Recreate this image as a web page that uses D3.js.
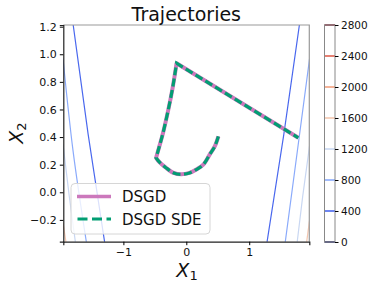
<!DOCTYPE html>
<html>
<head>
<meta charset="utf-8">
<script src="https://cdn.jsdelivr.net/npm/d3@7"></script>
<style>
body { margin: 0; background: #fff; }
text { font-family: "DejaVu Sans", sans-serif; }
</style>
</head>
<body>
<div id="container"></div>
<script>
// trajectory split at its two corners: bottom curve, left rise, straight run
const dsgd = [
    [[0.51, 0.405], [0.45, 0.33], [0.38, 0.28], [0.27, 0.2], [0.16, 0.165], [0.05, 0.14], [-0.08, 0.13], [-0.2, 0.14], [-0.33, 0.18], [-0.43, 0.22], [-0.48, 0.25]],
    [[-0.48, 0.25], [-0.43, 0.33], [-0.37, 0.43], [-0.29, 0.59], [-0.22, 0.75], [-0.18, 0.86], [-0.155, 0.935]],
    [[-0.155, 0.935], [1.78, 0.395]]
];
const dsgdSde = [
    [[0.51, 0.405], [0.45, 0.33], [0.38, 0.28], [0.27, 0.2], [0.16, 0.165], [0.05, 0.14], [-0.08, 0.13], [-0.2, 0.14], [-0.33, 0.18], [-0.43, 0.22], [-0.48, 0.25]],
    [[-0.48, 0.25], [-0.43, 0.33], [-0.37, 0.43], [-0.29, 0.59], [-0.22, 0.75], [-0.18, 0.86], [-0.155, 0.935]],
    [[-0.155, 0.935], [1.78, 0.395]]
];

const levels = [0, 400, 800, 1200, 1600, 2000, 2400, 2800];
const levelColors = ["#1f2466", "#4a68ee", "#8aaafb", "#c9d7f2", "#f4c7b0", "#f3a07f", "#e0604e", "#8a2a3a"];

// contour lines: [level, points]
const contourLines = [
    [400, [[-1.8, 1.22], [-1.56, 0.42], [-1.295, -0.37]]],
    [800, [[-1.96, 0.97], [-1.8, 0.3], [-1.585, -0.37]]],
    [1200, [[-1.96, 0.35], [-1.86, -0.03], [-1.76, -0.37]]],
    [1600, [[-1.96, -0.22], [-1.91, -0.37]]],
    [400, [[1.8, 1.22], [1.55, 0.42], [1.28, -0.37]]],
    [800, [[1.96, 0.97], [1.78, 0.35], [1.57, -0.37]]],
    [1200, [[1.96, 0.34], [1.85, -0.03], [1.76, -0.37]]],
    [1600, [[1.96, -0.2], [1.91, -0.37]]]
];

const xTicks = [-1, 0, 1];
const yTicks = [-0.2, 0.0, 0.2, 0.4, 0.6, 0.8, 1.0, 1.2];

const width = 374;
const height = 288;
const margin = ({ top: 25, right: 309.3, bottom: 241.7, left: 63.3 });

let x = d3.scaleLinear()
    .domain([-1.955, 1.955])
    .range([margin.left, margin.right]);

let y = d3.scaleLinear()
    .domain([-0.358, 1.212])
    .range([margin.bottom, margin.top]);

let cb = d3.scaleLinear()
    .domain([0, 2800])
    .range([242, 25]);

let color = d3.scaleOrdinal().domain(levels).range(levelColors);

let svg = d3.select("#container").append("svg")
    .attr("width", width)
    .attr("height", height);

svg.append("clipPath")
    .attr("id", "clip")
    .append("rect")
    .attr("x", margin.left)
    .attr("y", margin.top)
    .attr("width", margin.right - margin.left)
    .attr("height", margin.bottom - margin.top);

let smooth = d3.line()
    .curve(d3.curveCatmullRom)
    .x(d => x(d[0]))
    .y(d => y(d[1]));

let trajPath = parts => parts.map((p, i) => {
    let d = smooth(p);
    return i == 0 ? d : d.replace(/^M/, "L");
}).join("");

let plot = svg.append("g").attr("clip-path", "url(#clip)");

plot.selectAll("path.contour")
    .data(contourLines)
    .join("path")
    .attr("class", "contour")
    .attr("fill", "none")
    .attr("stroke", d => color(d[0]))
    .attr("stroke-width", 1.2)
    .attr("d", d => d3.line().curve(d3.curveNatural).x(p => x(p[0])).y(p => y(p[1]))(d[1]));

plot.append("path")
    .attr("fill", "none")
    .attr("stroke", "#cc78bc")
    .attr("stroke-width", 4)
    .attr("stroke-linejoin", "round")
    .attr("d", trajPath(dsgd));

plot.append("path")
    .attr("fill", "none")
    .attr("stroke", "#029e73")
    .attr("stroke-width", 3.2)
    .attr("stroke-dasharray", "8,3.5")
    .attr("d", trajPath(dsgdSde));

// spines
svg.append("path")
    .attr("fill", "none")
    .attr("stroke", "#999")
    .attr("stroke-width", 1.2)
    .attr("d", `M${margin.left},${margin.top}H${margin.right}V${margin.bottom}`);

svg.append("g")
    .attr("transform", `translate(0,${margin.bottom})`)
    .call(d3.axisBottom(x).tickValues(xTicks).tickSize(3.5).tickPadding(3).tickFormat(d => d3.format("")(d).replace("-", "\u2212")))
    .call(g => g.select(".domain").attr("stroke", "#222").attr("stroke-width", 1.2))
    .call(g => g.selectAll("text").attr("font-size", 11).attr("fill", "#111").attr("font-family", "DejaVu Sans"));

svg.append("g")
    .attr("transform", `translate(${margin.left},0)`)
    .call(d3.axisLeft(y).tickValues(yTicks).tickSize(3.5).tickPadding(3).tickFormat(d => d3.format(".1f")(d).replace("-", "\u2212")))
    .call(g => g.select(".domain").attr("stroke", "#222").attr("stroke-width", 1.2))
    .call(g => g.selectAll("text").attr("font-size", 11).attr("fill", "#111").attr("font-family", "DejaVu Sans"));

// legend
let legend = svg.append("g");
legend.append("rect")
    .attr("x", 71).attr("y", 183.5)
    .attr("width", 139).attr("height", 50.5)
    .attr("rx", 4)
    .attr("fill", "rgba(255,255,255,0.8)")
    .attr("stroke", "#d6d6d6");
legend.append("line")
    .attr("x1", 77).attr("x2", 111).attr("y1", 196.5).attr("y2", 196.5)
    .attr("stroke", "#cc78bc").attr("stroke-width", 3.5);
legend.append("line")
    .attr("x1", 77.5).attr("x2", 111).attr("y1", 219).attr("y2", 219)
    .attr("stroke", "#029e73").attr("stroke-width", 3).attr("stroke-dasharray", "10,4.5");
legend.append("text")
    .attr("x", 122).attr("y", 202)
    .attr("font-size", 15).attr("fill", "#111")
    .text("DSGD");
legend.append("text")
    .attr("x", 122).attr("y", 224.5)
    .attr("font-size", 15).attr("fill", "#111")
    .text("DSGD SDE");

// title and labels
svg.append("text")
    .attr("x", 186.3).attr("y", 20.5)
    .attr("text-anchor", "middle")
    .attr("font-size", 19).attr("fill", "#111")
    .text("Trajectories");

let xl = svg.append("text")
    .attr("x", 187).attr("y", 276.5)
    .attr("text-anchor", "middle")
    .attr("font-size", 19).attr("fill", "#111");
xl.append("tspan").attr("font-style", "italic").text("X");
xl.append("tspan").attr("font-size", 13).attr("dy", 3).text("1");

let yl = svg.append("text")
    .attr("transform", "translate(23,133) rotate(-90)")
    .attr("text-anchor", "middle")
    .attr("font-size", 19).attr("fill", "#111");
yl.append("tspan").attr("font-style", "italic").text("X");
yl.append("tspan").attr("font-size", 13).attr("dy", 3).text("2");

// colorbar
let bar = svg.append("g");
bar.selectAll("line.lvl")
    .data(levels)
    .join("line")
    .attr("class", "lvl")
    .attr("x1", 324.5).attr("x2", 335)
    .attr("y1", d => cb(d)).attr("y2", d => cb(d))
    .attr("stroke", d => color(d))
    .attr("stroke-width", 1.6);
bar.append("rect")
    .attr("x", 324.5).attr("y", 25)
    .attr("width", 10.5).attr("height", 217)
    .attr("fill", "none")
    .attr("stroke", "#888")
    .attr("stroke-width", 1);
bar.append("g")
    .attr("transform", "translate(335,0)")
    .call(d3.axisRight(cb).tickValues(levels).tickSize(3.5).tickPadding(2.5).tickFormat(d3.format("d")))
    .call(g => g.select(".domain").remove())
    .call(g => g.selectAll("text").attr("font-size", 10.5).attr("fill", "#111").attr("font-family", "DejaVu Sans"));
</script>
</body>
</html>
